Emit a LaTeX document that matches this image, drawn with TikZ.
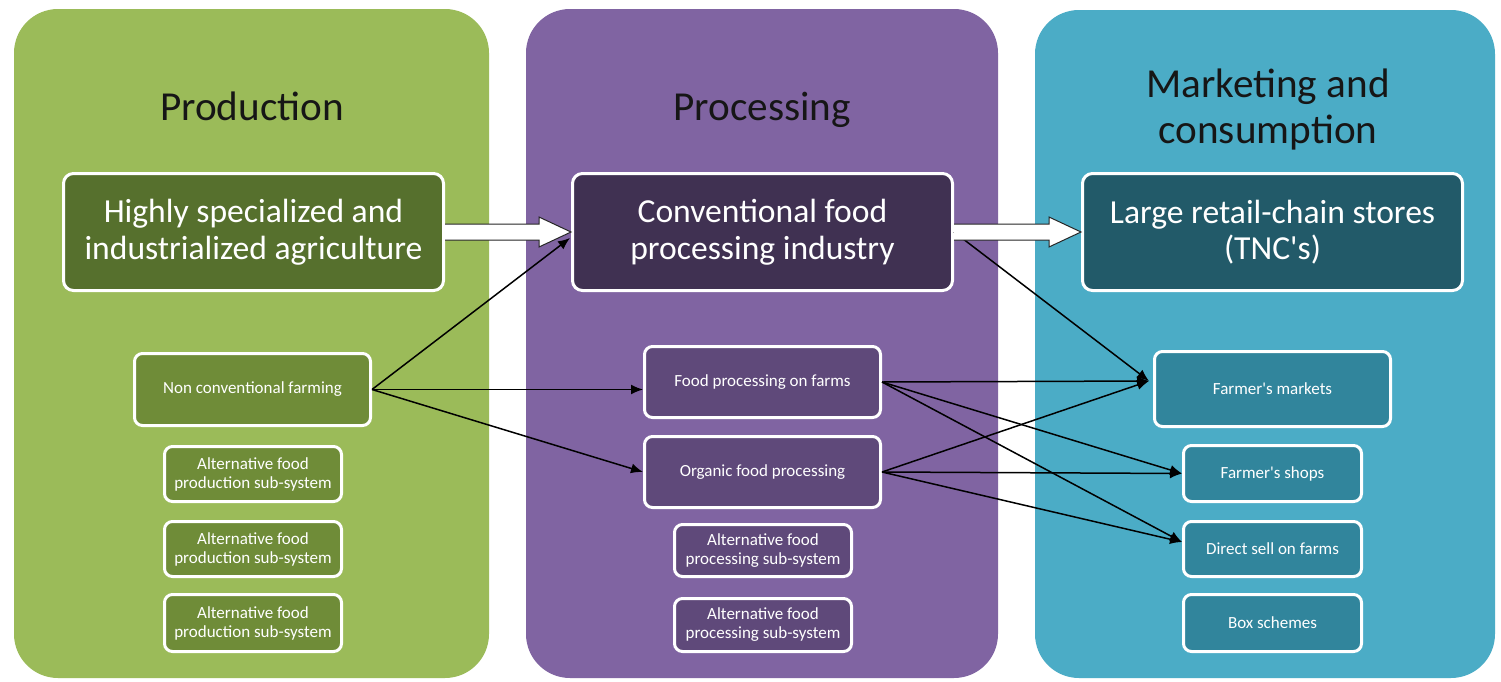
\documentclass[tikz,border=0pt]{standalone}
\usepackage{fontspec}
\setmainfont{Carlito}
\usetikzlibrary{arrows.meta,calc}
\definecolor{gpanel}{HTML}{9BBB59}
\definecolor{gbig}{HTML}{56702D}
\definecolor{gsmall}{HTML}{6F8C38}
\definecolor{ppanel}{HTML}{8064A2}
\definecolor{pbig}{HTML}{403152}
\definecolor{psmall}{HTML}{5F497A}
\definecolor{bpanel}{HTML}{4BACC6}
\definecolor{bbig}{HTML}{225A69}
\definecolor{bsmall}{HTML}{31859C}
\definecolor{titlecol}{HTML}{161616}
\tikzset{
  panel/.style={rounded corners=22pt},
  bigbox/.style={draw=white, line width=1.5pt, rounded corners=5pt, minimum width=190pt, minimum height=58.5pt, text=white, font=\fontsize{16.8}{18.3}\selectfont, align=center, inner sep=0pt},
  smallbox/.style={draw=white, line width=1.5pt, rounded corners=4pt, text=white, font=\fontsize{8.5}{9.5}\selectfont, align=center, inner sep=0pt},
  wide/.style={minimum width=118pt},
  narrow/.style={minimum width=88.5pt},
  titletext/.style={font=\fontsize{20.6}{23}\selectfont, text=titlecol, align=center},
  conn/.style={-{Latex[length=6pt,width=5pt]}, line width=0.75pt, black},
  blockarrow/.style={draw=black!85, fill=white, line width=0.5pt}
}
\begin{document}
\begin{tikzpicture}[x=0.5pt,y=-0.5pt]
\useasboundingbox[fill=white] (0,0) rectangle (1501,681);
% panels
\fill[gpanel, panel] (14,9) rectangle (489,678);
\fill[ppanel, panel] (526,9) rectangle (998,678);
\fill[bpanel, panel] (1035,10) rectangle (1495,678);
% titles
\node[titletext, anchor=base] (t1) at (252,120) {Production};
\node[titletext, anchor=base] (t2) at (762,120) {Processing};
\node[titletext] (t3) at (1268,110) {Marketing and\\consumption};
% big boxes
\node[bigbox, fill=gbig] (big1) at (253.5,232) {Highly specialized and\\industrialized agriculture};
\node[bigbox, fill=pbig] (big2) at (762.5,232) {Conventional food\\processing industry};
\node[bigbox, fill=bbig] (big3) at (1272.5,232) {Large retail-chain stores\\(TNC\textquotesingle s)};
% production column
\node[smallbox, wide, fill=gsmall, minimum height=36pt] (ncf) at (252.5,389.5) {Non conventional farming};
\node[smallbox, narrow, fill=gsmall, minimum height=27.5pt] (alt1) at (253,474) {Alternative food\\production sub-system};
\node[smallbox, narrow, fill=gsmall, minimum height=27.5pt] (alt2) at (253,549) {Alternative food\\production sub-system};
\node[smallbox, narrow, fill=gsmall, minimum height=28.5pt] (alt3) at (253,623) {Alternative food\\production sub-system};
% processing column
\node[smallbox, wide, fill=psmall, minimum height=35.5pt] (fpf) at (762.5,382) {Food processing on farms};
\node[smallbox, wide, fill=psmall, minimum height=35.5pt] (ofp) at (762.5,472) {Organic food processing};
\node[smallbox, narrow, fill=psmall, minimum height=26pt] (app1) at (763,550.5) {Alternative food\\processing sub-system};
\node[smallbox, narrow, fill=psmall, minimum height=26.5pt] (app2) at (763,625) {Alternative food\\processing sub-system};
% marketing column
\node[smallbox, wide, fill=bsmall, minimum height=37.5pt] (fm) at (1272.5,389) {Farmer\textquotesingle s markets};
\node[smallbox, minimum width=89pt, fill=bsmall, minimum height=28pt] (fs) at (1272.5,473.5) {Farmer\textquotesingle s shops};
\node[smallbox, minimum width=89pt, fill=bsmall, minimum height=27.5pt] (ds) at (1272.5,549) {Direct sell on farms};
\node[smallbox, minimum width=89pt, fill=bsmall, minimum height=28.5pt] (bs) at (1272.5,623) {Box schemes};
% connection points
\coordinate (fmin) at ($(fm.west)+(-4,-8)$);
\coordinate (dsin) at ($(ds.west)+(0,-7)$);
% line under the block arrow
\draw[conn] (big2.east) -- (fmin);
% block arrows
\path[blockarrow] ($(big1.east)+(0,-8)$) -- ($(big2.west)+(-32,-8)$) -- ($(big2.west)+(-32,-15)$) -- (big2.west) -- ($(big2.west)+(-32,15)$) -- ($(big2.west)+(-32,8)$) -- ($(big1.east)+(0,8)$);
\path[blockarrow] ($(big2.east)+(0,-8)$) -- ($(big3.west)+(-32,-8)$) -- ($(big3.west)+(-32,-15)$) -- (big3.west) -- ($(big3.west)+(-32,15)$) -- ($(big3.west)+(-32,8)$) -- ($(big2.east)+(0,8)$);
% thin connectors
\draw[conn] (ncf.east) -- ($(big2.west)+(-1,6)$);
\draw[conn] (ncf.east) -- (fpf.west |- ncf.east);
\draw[conn] (ncf.east) -- (ofp.west);
\draw[conn] (fpf.east) -- (fmin);
\draw[conn] (fpf.east) -- (fs.west);
\draw[conn] (fpf.east) -- (dsin);
\draw[conn] (ofp.east) -- (fmin);
\draw[conn] (ofp.east) -- (fs.west);
\draw[conn] (ofp.east) -- (dsin);
\end{tikzpicture}
\end{document}
